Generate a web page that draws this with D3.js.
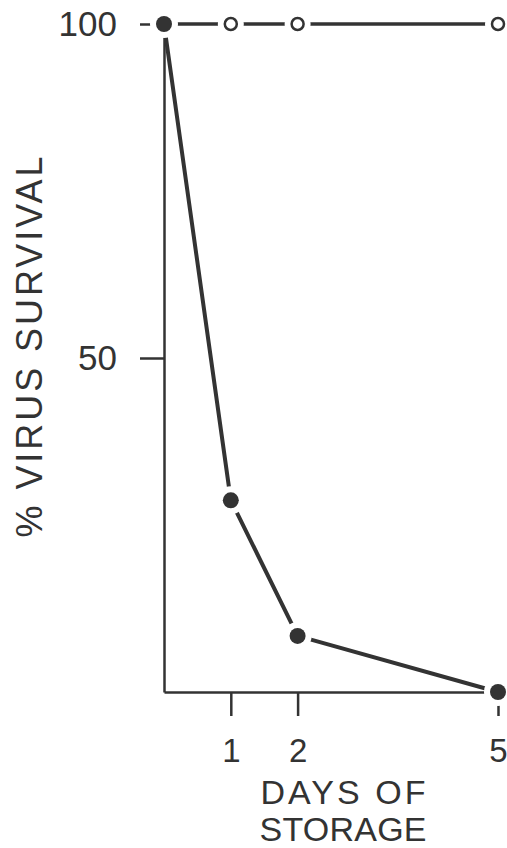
<!DOCTYPE html>
<html>
<head>
<meta charset="utf-8">
<script src="https://cdn.jsdelivr.net/npm/d3@7"></script>
<style>
  body { margin: 0; background: #fff; }
  svg { display: block; }
  .axis text { font-family: "Liberation Sans", "DejaVu Sans", sans-serif; fill: #333; }
  .axis path, .axis line { stroke: #333; stroke-width: 2.5; }
</style>
</head>
<body>
<div id="chart"></div>
<script>
// days of storage and % virus survival
const days = [0, 1, 2, 5];
const treated = [100, 28.7, 8.4, 0];      // filled dots
const control = [100, 100, 100, 100];     // open dots
const xTicks = [1, 2, 5];
const yTicks = [50, 100];

const width = 507, height = 848;
const ink = '#333';
const font = '"Liberation Sans", "DejaVu Sans", sans-serif';

const svg = d3.select('#chart')
  .append('svg')
    .attr('width', width)
    .attr('height', height);

const xScale = d3.scaleLinear()
  .domain([0, 5])
  .range([164, 498]);

const yScale = d3.scaleLinear()
  .domain([0, 100])
  .range([692, 24]);

// axes
svg.append('g')
  .attr('class', 'axis')
  .attr('transform', 'translate(0,' + yScale(0) + ')')
  .call(d3.axisBottom(xScale).tickValues(xTicks).tickFormat(d3.format('d'))
    .tickSize(24).tickSizeOuter(0).tickPadding(23))
  .call(g => g.selectAll('text').style('font-size', '33px'));

svg.append('g')
  .attr('class', 'axis')
  .attr('transform', 'translate(' + xScale(0) + ',0)')
  .call(d3.axisLeft(yScale).tickValues(yTicks).tickFormat(d3.format('d'))
    .tickSize(24).tickSizeOuter(0).tickPadding(23))
  .call(g => g.selectAll('text').style('font-size', '35px'));

// axis titles
svg.append('text')
  .attr('transform', 'translate(42,347) rotate(-90)')
  .attr('text-anchor', 'middle')
  .attr('textLength', 381)
  .attr('lengthAdjust', 'spacing')
  .style('font-family', font)
  .style('font-size', '36px')
  .style('fill', ink)
  .text('% VIRUS SURVIVAL');

svg.append('text')
  .attr('x', 343)
  .attr('y', 804)
  .attr('text-anchor', 'middle')
  .attr('textLength', 165)
  .attr('lengthAdjust', 'spacing')
  .style('font-family', font)
  .style('font-size', '34px')
  .style('fill', ink)
  .text('DAYS OF');

svg.append('text')
  .attr('x', 343)
  .attr('y', 841)
  .attr('text-anchor', 'middle')
  .attr('textLength', 167)
  .attr('lengthAdjust', 'spacing')
  .style('font-family', font)
  .style('font-size', '34px')
  .style('fill', ink)
  .text('STORAGE');

const line = d3.line()
  .x(d => xScale(d.day))
  .y(d => yScale(d.value));

function drawSeries(values, filled) {
  const pts = days.map((day, i) => ({day: day, value: values[i]}));
  svg.append('path')
    .attr('d', line(pts))
    .attr('fill', 'none')
    .attr('stroke', ink)
    .attr('stroke-width', filled ? 4 : 3.5);
  // white halos leave a gap between lines and markers
  svg.append('g')
    .selectAll('circle')
    .data(pts)
    .join('circle')
      .attr('cx', d => xScale(d.day))
      .attr('cy', d => yScale(d.value))
      .attr('r', filled ? 14 : 13)
      .attr('fill', '#fff');
  return pts;
}

const controlPts = drawSeries(control, false);
svg.append('g')
  .selectAll('circle')
  .data(controlPts)
  .join('circle')
    .attr('cx', d => xScale(d.day))
    .attr('cy', d => yScale(d.value))
    .attr('r', 6)
    .attr('fill', '#fff')
    .attr('stroke', ink)
    .attr('stroke-width', 2.5);

const treatedPts = drawSeries(treated, true);
svg.append('g')
  .selectAll('circle')
  .data(treatedPts)
  .join('circle')
    .attr('cx', d => xScale(d.day))
    .attr('cy', d => yScale(d.value))
    .attr('r', 8)
    .attr('fill', ink);
</script>
</body>
</html>
